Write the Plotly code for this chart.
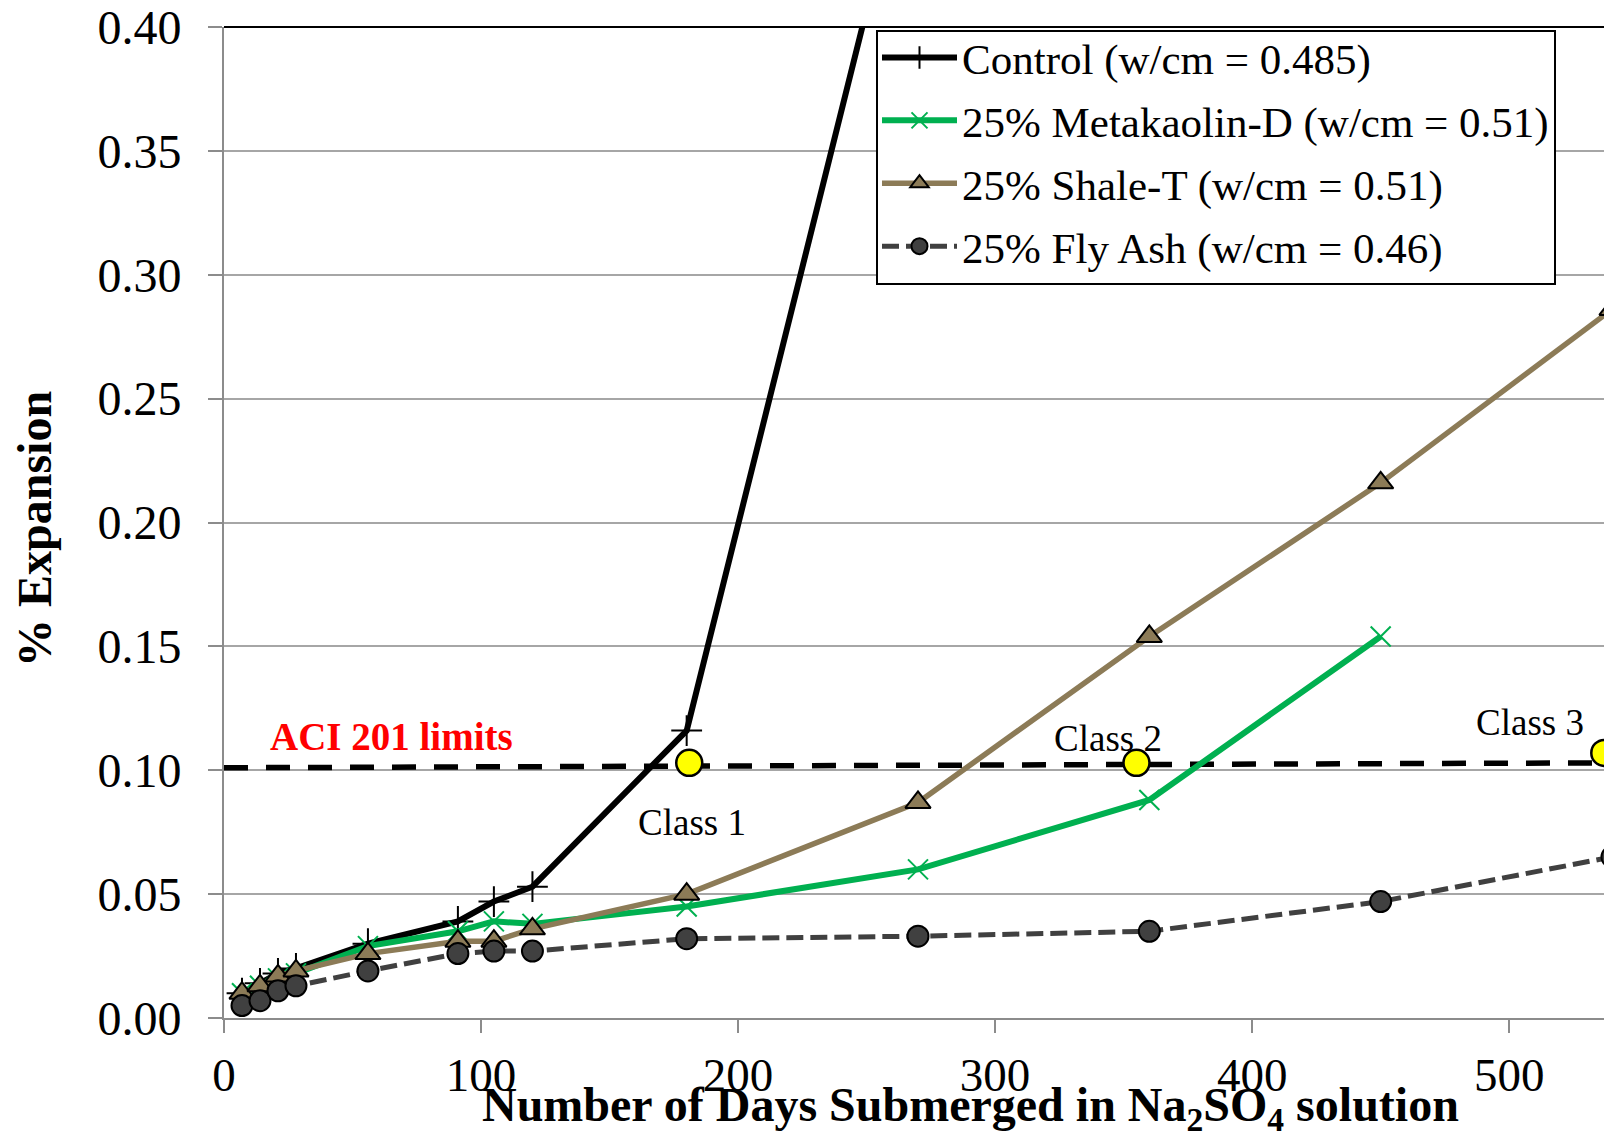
import plotly.graph_objects as go

# ---------------- data ----------------
control_days = [7, 14, 21, 28, 56, 91, 105, 120, 180, 270]
control_exp = [0.010, 0.014, 0.018, 0.020, 0.030, 0.039, 0.047, 0.053, 0.116, 0.490]

meta_days = [7, 14, 21, 28, 56, 91, 105, 120, 180, 270, 360, 450]
meta_exp = [0.010, 0.013, 0.016, 0.018, 0.029, 0.035, 0.039, 0.038, 0.045, 0.060, 0.088, 0.154]

shale_days = [7, 14, 21, 28, 56, 91, 105, 120, 180, 270, 360, 450, 540]
shale_exp = [0.010, 0.013, 0.017, 0.019, 0.026, 0.031, 0.031, 0.036, 0.050, 0.087, 0.154, 0.216, 0.286]

fly_days = [7, 14, 21, 28, 56, 91, 105, 120, 180, 270, 360, 450, 540]
fly_exp = [0.005, 0.007, 0.011, 0.013, 0.019, 0.026, 0.027, 0.027, 0.032, 0.033, 0.035, 0.047, 0.065]

limit_days = [0, 540]
limit_exp = [0.101, 0.103]

class_days = [181, 355, 537]
class_exp = [0.103, 0.103, 0.107]
class_labels = ["Class 1", "Class 2", "Class 3"]
class_label_days = [182, 344, 508]
class_label_exp = [0.079, 0.1127, 0.1192]

series_names = ["Control (w/cm = 0.485)", "25% Metakaolin-D (w/cm = 0.51)",
                "25% Shale-T (w/cm = 0.51)", "25% Fly Ash (w/cm = 0.46)"]

x_ticks = [0, 100, 200, 300, 400, 500]
y_ticks = [0.00, 0.05, 0.10, 0.15, 0.20, 0.25, 0.30, 0.35, 0.40]

SERIF = "Liberation Serif, Times New Roman, serif"
GREEN = "#00B050"
BROWN = "#8C7B57"
FLY = "#404040"

# page geometry (the figure div sits 8px in from the page corner)
W, H = 1604, 1125
PL, PR, PT, PB = 224, 1612, 27, 1018          # plot area in page pixels
PW, PH = PR - PL, PB - PT


def px(x):
    return (x - PL) / PW


def py(y):
    return (PB - y) / PH


fig = go.Figure()

# ACI limit dashed line
fig.add_trace(go.Scatter(x=limit_days, y=limit_exp, mode="lines", showlegend=False,
                         line=dict(color="black", width=5.5, dash="24px,18px"), hoverinfo="skip"))

fig.add_trace(go.Scatter(x=control_days, y=control_exp, mode="lines+markers", name=series_names[0],
                         legendgroup="a",
                         line=dict(color="black", width=6),
                         marker=dict(symbol="cross-thin", size=22, line=dict(color="black", width=2), color="black")))
fig.add_trace(go.Scatter(x=meta_days, y=meta_exp, mode="lines+markers", name=series_names[1],
                         legendgroup="b",
                         line=dict(color=GREEN, width=6),
                         marker=dict(symbol="x-thin", size=20, line=dict(color=GREEN, width=2), color=GREEN)))
fig.add_trace(go.Scatter(x=shale_days, y=shale_exp, mode="lines+markers", name=series_names[2],
                         legendgroup="c",
                         line=dict(color=BROWN, width=5.5),
                         marker=dict(symbol="triangle-up", size=22, color=BROWN, line=dict(color="black", width=2))))
fig.add_trace(go.Scatter(x=fly_days, y=fly_exp, mode="lines+markers", name=series_names[3],
                         legendgroup="d",
                         line=dict(color=FLY, width=5, dash="17px,7px"),
                         marker=dict(symbol="circle", size=21, color=FLY, line=dict(color="black", width=2))))

# class points
fig.add_trace(go.Scatter(x=class_days, y=class_exp, mode="markers", showlegend=False,
                         marker=dict(symbol="circle", size=26, color="#FFFF00", line=dict(color="black", width=2.5))))

annotations = []
for lab, cx, cy in zip(class_labels, class_label_days, class_label_exp):
    annotations.append(dict(x=cx, y=cy, xref="x", yref="y", text=lab, showarrow=False,
                            font=dict(family=SERIF, size=37, color="black")))
annotations.append(dict(x=65, y=0.1135, xref="x", yref="y", text="<b>ACI 201 limits</b>", showarrow=False,
                        font=dict(family=SERIF, size=39, color="#FF0000")))
annotations.append(dict(x=px(970), y=py(1108), xref="paper", yref="paper",
                        text="<b>Number of Days Submerged in Na<sub>2</sub>SO<sub>4</sub> solution</b>",
                        showarrow=False, xanchor="center", yanchor="middle",
                        font=dict(family=SERIF, size=48, color="black")))
annotations.append(dict(x=px(34), y=py(529), xref="paper", yref="paper",
                        text="<b>% Expansion</b>", textangle=-90, showarrow=False,
                        xanchor="center", yanchor="middle",
                        font=dict(family=SERIF, size=48, color="black")))

shapes = [
    dict(type="line", xref="paper", yref="paper", x0=0, x1=1, y0=1, y1=1,
         line=dict(color="black", width=2)),
    dict(type="rect", xref="paper", yref="paper", layer="above",
         x0=px(877), x1=px(1555), y0=py(284), y1=py(31),
         fillcolor="white", line=dict(color="black", width=2)),
]

fig.update_layout(
    width=W, height=H,
    margin=dict(l=PL - 8, r=W - (PR - 8), t=PT - 8, b=H - (PB - 8), autoexpand=False),
    plot_bgcolor="white", paper_bgcolor="white",
    annotations=annotations,
    shapes=shapes,
    legend=dict(x=px(877), y=py(23), xanchor="left", yanchor="top",
                bgcolor="rgba(0,0,0,0)", borderwidth=0,
                font=dict(family=SERIF, size=43, color="black"),
                traceorder="grouped", tracegroupgap=4, itemwidth=75),
    showlegend=True,
)
fig.update_xaxes(range=[0, 540], tickvals=x_ticks, ticktext=[str(v) for v in x_ticks],
                 automargin=False, ticklabeloverflow="allow",
                 showgrid=False, zeroline=False, showline=True, linecolor="#8C8C8C", linewidth=2,
                 ticks="outside", ticklen=13, tickwidth=2, tickcolor="#8C8C8C",
                 tickfont=dict(family=SERIF, size=47, color="black"), ticklabelstandoff=2)
fig.update_yaxes(range=[0, 0.40], tickvals=y_ticks, ticktext=[f"{v:.2f}" for v in y_ticks],
                 automargin=False, ticklabeloverflow="allow",
                 showgrid=True, gridcolor="#A6A6A6", gridwidth=2, zeroline=False,
                 showline=True, linecolor="#8C8C8C", linewidth=2,
                 ticks="outside", ticklen=14, tickwidth=2, tickcolor="#8C8C8C",
                 tickfont=dict(family=SERIF, size=48, color="black"), ticklabelstandoff=17)

fig.write_html("out.html")
